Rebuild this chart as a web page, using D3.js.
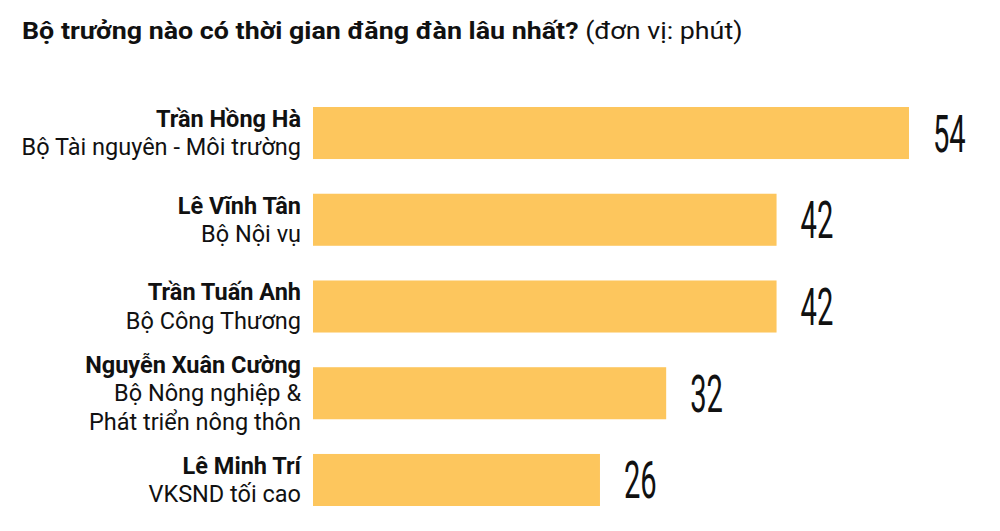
<!DOCTYPE html>
<html>
<head>
<meta charset="utf-8">
<script src="https://cdn.jsdelivr.net/npm/d3@7"></script>
<style>
  body { margin: 0; background: #fff; }
  svg { font-family: Roboto, "Noto Sans", sans-serif; }
</style>
</head>
<body>
<svg id="chart"></svg>
<script>
// data
const names = ["Trần Hồng Hà", "Lê Vĩnh Tân", "Trần Tuấn Anh", "Nguyễn Xuân Cường", "Lê Minh Trí"];
const ministries = [
  ["Bộ Tài nguyên - Môi trường"],
  ["Bộ Nội vụ"],
  ["Bộ Công Thương"],
  ["Bộ Nông nghiệp &", "Phát triển nông thôn"],
  ["VKSND tối cao"]
];
const minutes = [54, 42, 42, 32, 26];

const width = 1000, height = 531;
const barLeft = 313, barRight = 909;

const svg = d3.select("#chart").attr("width", width).attr("height", height);

// title (stretched a little to the reference width)
const titleG = svg.append("g");
const title = titleG.append("text").attr("x", 0).attr("y", 0).attr("font-size", 23).attr("fill", "#111");
title.append("tspan").attr("font-weight", 700).text("Bộ trưởng nào có thời gian đăng đàn lâu nhất?");
title.append("tspan").attr("font-weight", 400).text(" (đơn vị: phút)");
const tw = title.node().getComputedTextLength();
titleG.attr("transform", `translate(22,39) scale(${721 / tw},1)`);

const x = d3.scaleLinear().domain([0, d3.max(minutes)]).range([barLeft, barRight]);
const y = d3.scaleBand().domain(names).range([107, 506]).paddingInner(0.4).paddingOuter(0);

const rows = names.map((n, i) => ({ name: n, sub: ministries[i], v: minutes[i] }));

svg.selectAll("rect.bar").data(rows).join("rect")
  .attr("class", "bar")
  .attr("x", x(0))
  .attr("y", d => y(d.name))
  .attr("width", d => x(d.v) - x(0))
  .attr("height", y.bandwidth())
  .attr("fill", "#fdc65d");

// category labels (name bold + ministry lines)
const lineH = 28.5, capH = 16;
const labels = svg.selectAll("text.cat").data(rows).join("text")
  .attr("class", "cat")
  .attr("text-anchor", "end")
  .attr("font-size", 23.5)
  .attr("fill", "#111")
  .attr("y", d => {
    const n = d.sub.length + 1;
    const c = y(d.name) + y.bandwidth() / 2;
    return c - ((n - 1) * lineH - capH) / 2;
  });

labels.each(function(d) {
  const t = d3.select(this);
  const y0 = +t.attr("y");
  t.append("tspan").attr("x", 301).attr("y", y0).attr("font-weight", 700).text(d.name);
  d.sub.forEach((s, k) => {
    t.append("tspan").attr("x", 301).attr("y", y0 + (k + 1) * lineH).text(s);
  });
});

// value labels, condensed
svg.selectAll("text.val").data(rows).join("text")
  .attr("class", "val")
  .attr("transform", d => `translate(${x(d.v) + 24},${y(d.name) + y.bandwidth() / 2 + 18.5}) scale(0.56,1)`)
  .attr("font-size", 52)
  .attr("font-weight", 400)
  .attr("fill", "#111")
  .text(d => d.v);
</script>
</body>
</html>
